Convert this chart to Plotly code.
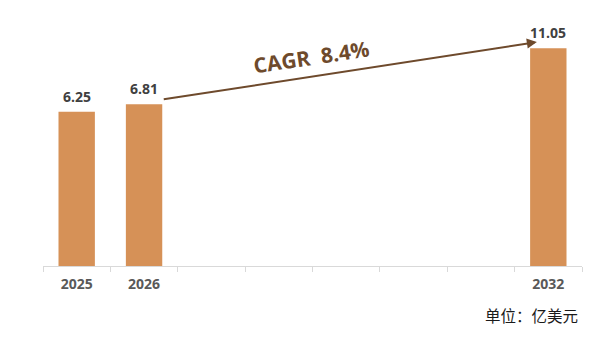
import plotly.graph_objects as go

# ---- data ----
CATEGORIES = ["2025", "2026", "2027", "2028", "2029", "2030", "2031", "2032"]
TICK_LABELS = ["2025", "2026", "", "", "", "", "", "2032"]
BAR_YEARS = ["2025", "2026", "2032"]
BAR_VALUES = [6.25, 6.81, 11.05]
CAGR_TEXT = "CAGR  8.4%"
UNIT_TEXT = "单位：亿美元"

# ---- style ----
BAR_COLOR = "#D69157"
BROWN = "#6E4A2C"
AXIS_COLOR = "#D9D9D9"
Y_MIN, Y_MAX = -5.45, 13.2

fig = go.Figure()
fig.add_trace(go.Bar(
    x=BAR_YEARS,
    y=[v - Y_MIN for v in BAR_VALUES],
    base=Y_MIN,
    width=0.54,
    marker=dict(color=BAR_COLOR, line=dict(width=0)),
    hoverinfo="skip",
))

annotations = []
for yr, v in zip(BAR_YEARS, BAR_VALUES):
    annotations.append(dict(
        x=CATEGORIES.index(yr), y=v, xref="x", yref="y",
        text=f"{v:.2f}", showarrow=False, yanchor="bottom", yshift=4,
        font=dict(family="Open Sans", size=14, color="#404040", weight="bold"),
    ))

i26 = CATEGORIES.index("2026")
i32 = CATEGORIES.index("2032")
v26 = BAR_VALUES[BAR_YEARS.index("2026")]
v32 = BAR_VALUES[BAR_YEARS.index("2032")]
# growth arrow from 2026 to 2032
annotations.append(dict(
    x=i32 - 0.17, y=v32 + 0.48, xref="x", yref="y",
    ax=i26 + 0.27, ay=v26 + 0.36, axref="x", ayref="y",
    text="", showarrow=True, arrowhead=2, arrowsize=1, arrowwidth=2,
    arrowcolor=BROWN, standoff=0, startstandoff=0,
))
annotations.append(dict(
    x=i26 + 2.48, y=10.4, xref="x", yref="y",
    text=CAGR_TEXT, showarrow=False, textangle=-8.6,
    font=dict(family="Open Sans", size=21, color=BROWN, weight="bold"),
))
annotations.append(dict(
    x=0.996, y=-0.199, xref="paper", yref="paper",
    xanchor="right", yanchor="middle",
    text=UNIT_TEXT, showarrow=False,
    font=dict(family="Noto Sans CJK SC", size=15.5, color="#1A1A1A"),
))

fig.update_layout(
    width=602, height=344,
    margin=dict(l=43, r=20, t=20, b=78),
    paper_bgcolor="white", plot_bgcolor="white",
    showlegend=False,
    annotations=annotations,
    xaxis=dict(
        type="category",
        categoryorder="array", categoryarray=CATEGORIES,
        tickvals=CATEGORIES, ticktext=TICK_LABELS,
        range=[-0.5, len(CATEGORIES) - 0.5],
        showline=True, linecolor=AXIS_COLOR, linewidth=1,
        ticks="outside", tickson="boundaries", ticklen=5,
        tickcolor=AXIS_COLOR, tickwidth=1,
        showgrid=False, zeroline=False,
        tickfont=dict(family="Open Sans", size=14, color="#595959", weight="bold"),
        ticklabelstandoff=5,
    ),
    yaxis=dict(
        range=[Y_MIN, Y_MAX], visible=False, showgrid=False, zeroline=False,
    ),
)

fig.write_html("out.html")
